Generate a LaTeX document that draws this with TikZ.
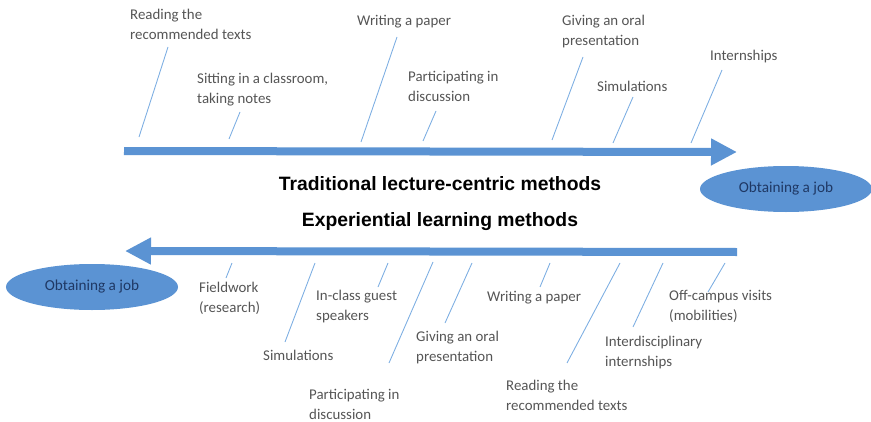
\documentclass[tikz,border=0pt]{standalone}
\usepackage{fontspec}
\setmainfont{Carlito}
\newfontfamily\headfont{Liberation Sans}
\usetikzlibrary{positioning, arrows.meta, shapes.geometric}
\definecolor{arrowblue}{HTML}{5B93D3}
\definecolor{leadblue}{HTML}{7DAEE2}
\definecolor{labelgray}{HTML}{555555}
\definecolor{jobtext}{HTML}{1F3864}

\begin{document}
\begin{tikzpicture}[x=0.03cm, y=-0.03cm,
    labelnode/.style={anchor=north west, inner sep=0pt, align=left, text=labelgray, font=\fontsize{12.7}{17}\selectfont},
    headnode/.style={inner sep=0pt, font=\headfont\bfseries\fontsize{16.5}{18}\selectfont},
    jobnode/.style={ellipse, fill=arrowblue, text=jobtext, minimum width=5.16cm, minimum height=1.38cm, font=\fontsize{13}{15}\selectfont},
    bigarrow/.style={draw=arrowblue, line width=0.24cm, -{Triangle[length=0.78cm, width=0.76cm]}},
    leader/.style={draw=leadblue, line width=0.75pt}
]
\useasboundingbox (0,0) rectangle (871,422);

% main arrows
\coordinate (ta) at (124,151);
\coordinate (tb) at (737,152);
\coordinate (ba) at (737,252);
\coordinate (bb) at (125,251);
\draw[bigarrow] (ta) -- (tb);
\draw[bigarrow] (ba) -- (bb);

\node[jobnode](job1) at (786,189){Obtaining a job};
\node[jobnode](job2) at (92,287){Obtaining a job};

\node[headnode](head1) at (440,184){Traditional lecture-centric methods};
\node[headnode](head2) at (440,222){Experiential learning methods};

% traditional methods
\node[labelnode](t1) at (130,9){Reading the\\recommended texts};
\node[labelnode](t2) at (197,73){Sitting in a classroom,\\taking notes};
\node[labelnode](t3) at (357,15){Writing a paper};
\node[labelnode](t4) at (408,71){Participating in\\discussion};
\node[labelnode](t5) at (562,15){Giving an oral\\presentation};
\node[labelnode](t6) at (597,81){Simulations};
\node[labelnode](t7) at (710,50){Internships};

\coordinate (t1a) at (168,47);  \coordinate (t1b) at (139,137);
\coordinate (t2a) at (240,112); \coordinate (t2b) at (229,139);
\coordinate (t3a) at (397,37);  \coordinate (t3b) at (361,142);
\coordinate (t4a) at (436,111); \coordinate (t4b) at (423,141);
\coordinate (t5a) at (583,57);  \coordinate (t5b) at (552,140);
\coordinate (t6a) at (633,97);  \coordinate (t6b) at (613,143);
\coordinate (t7a) at (722,70);  \coordinate (t7b) at (691,143);

\draw[leader] (t1a) -- (t1b);
\draw[leader] (t2a) -- (t2b);
\draw[leader] (t3a) -- (t3b);
\draw[leader] (t4a) -- (t4b);
\draw[leader] (t5a) -- (t5b);
\draw[leader] (t6a) -- (t6b);
\draw[leader] (t7a) -- (t7b);

% experiential methods
\node[labelnode](e1) at (199,282){Fieldwork\\(research)};
\node[labelnode](e2) at (263,350){Simulations};
\node[labelnode](e3) at (316,290){In-class guest\\speakers};
\node[labelnode](e4) at (309,389){Participating in\\discussion};
\node[labelnode](e5) at (416,331){Giving an oral\\presentation};
\node[labelnode](e6) at (487,291){Writing a paper};
\node[labelnode](e7) at (506,380){Reading the\\recommended texts};
\node[labelnode](e8) at (605,336){Interdisciplinary\\internships};
\node[labelnode](e9) at (669,290){Off-campus visits\\(mobilities)};

\coordinate (e1a) at (232,263); \coordinate (e1b) at (226,278);
\coordinate (e2a) at (315,263); \coordinate (e2b) at (285,342);
\coordinate (e3a) at (388,263); \coordinate (e3b) at (378,287);
\coordinate (e4a) at (433,262); \coordinate (e4b) at (389,363);
\coordinate (e5a) at (472,263); \coordinate (e5b) at (445,323);
\coordinate (e6a) at (550,263); \coordinate (e6b) at (540,287);
\coordinate (e7a) at (620,263); \coordinate (e7b) at (567,363);
\coordinate (e8a) at (663,263); \coordinate (e8b) at (633,327);
\coordinate (e9a) at (725,263); \coordinate (e9b) at (708,292);

\draw[leader] (e1a) -- (e1b);
\draw[leader] (e2a) -- (e2b);
\draw[leader] (e3a) -- (e3b);
\draw[leader] (e4a) -- (e4b);
\draw[leader] (e5a) -- (e5b);
\draw[leader] (e6a) -- (e6b);
\draw[leader] (e7a) -- (e7b);
\draw[leader] (e8a) -- (e8b);
\draw[leader] (e9a) -- (e9b);
\end{tikzpicture}
\end{document}
